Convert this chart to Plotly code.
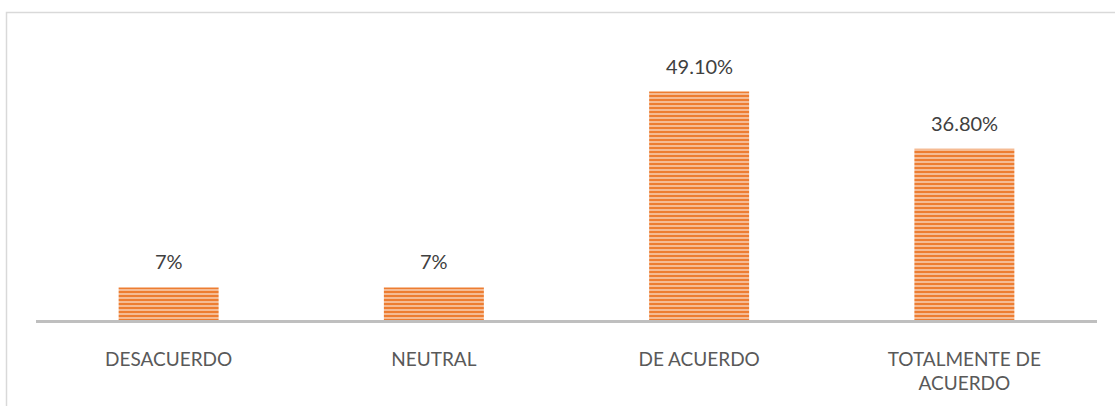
import plotly.graph_objects as go

categories = ["DESACUERDO", "NEUTRAL", "DE ACUERDO", "TOTALMENTE DE<br>ACUERDO"]
values = [7.0, 7.0, 49.1, 36.8]
labels = ["7%", "7%", "49.10%", "36.80%"]

W, H = 1115, 406
ml, mr, mt, mb = 36, 18, 22, 84
pw, ph = W - ml - mr, H - mt - mb
ymax = 64.05

fig = go.Figure()
fig.add_trace(go.Bar(
    x=list(range(len(categories))), y=values, width=0.377,
    marker=dict(color="#F4B183", line=dict(width=0),
                pattern=dict(shape="-", fgcolor="#ED7D31", bgcolor="#F8CBAD",
                             fgopacity=1, size=4, solidity=0.6)),
    hoverinfo="skip",
))
for i, (v, t) in enumerate(zip(values, labels)):
    fig.add_annotation(x=i, y=v, text=t, showarrow=False, yanchor="bottom",
                       yshift=12, font=dict(family="Lato", size=20, color="#404040"))

fig.add_shape(type="rect", xref="paper", yref="paper",
              x0=(6.5 - ml) / pw, x1=1.2, y0=-1.0, y1=(H - mb - 12.5) / ph,
              line=dict(color="#D9D9D9", width=1.5), fillcolor="rgba(0,0,0,0)", layer="below")

fig.update_layout(
    width=W, height=H, margin=dict(l=ml, r=mr, t=mt, b=mb),
    paper_bgcolor="white", plot_bgcolor="white", showlegend=False,
    xaxis=dict(range=[-0.5, 3.5], tickmode="array", tickvals=list(range(4)),
               ticktext=categories, showgrid=False, zeroline=False,
               showline=True, linecolor="#BFBFBF", linewidth=2.5,
               ticks="", ticklabelstandoff=20,
               tickfont=dict(family="Lato", size=19, color="#595959")),
    yaxis=dict(range=[0, ymax], visible=False),
)
fig.write_html("out.html")
